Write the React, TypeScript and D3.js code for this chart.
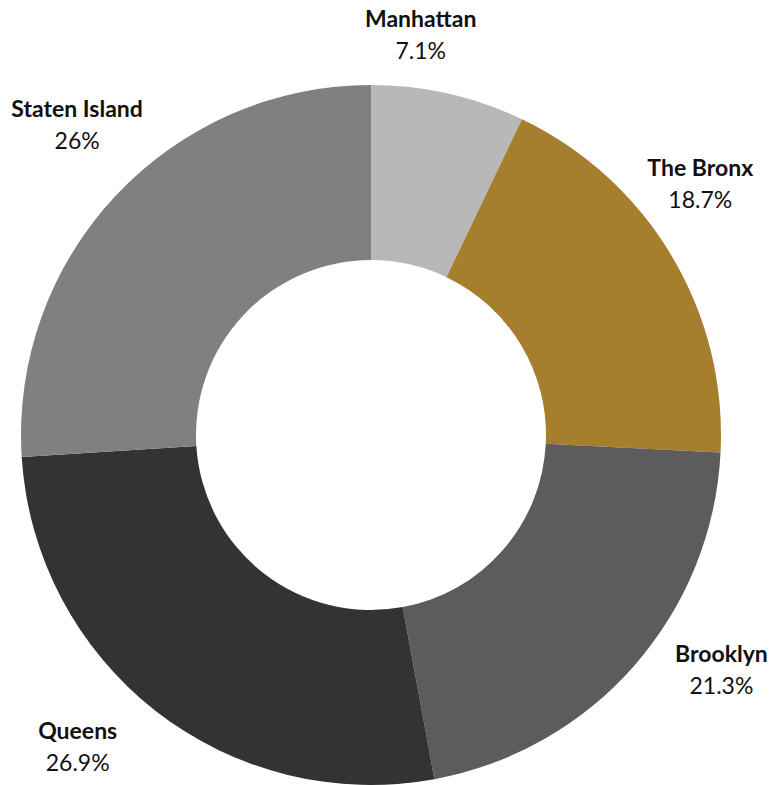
import React, { useEffect, useRef } from 'react';
import * as d3 from 'd3';

// borough share, clockwise from 12 o'clock
const boroughs = ['Manhattan', 'The Bronx', 'Brooklyn', 'Queens', 'Staten Island'];
const shares = [7.1, 18.7, 21.3, 26.9, 26];
const shareLabels = ['7.1%', '18.7%', '21.3%', '26.9%', '26%'];
const colors = ['#b7b8b7', '#a57e2e', '#5c5c5c', '#333333', '#808083'];

// hand tweaks so labels sit where the original put them
const labelNudge: Record<string, [number, number]> = {
    'Manhattan': [-41, -2],
    'The Bronx': [-23, -43],
    'Brooklyn': [42, -37],
    'Queens': [-41, -13],
    'Staten Island': [5, -31],
};

const width = 779;
const height = 785;
const cx = 371;
const cy = 435;
const outerRadius = 350;
const innerRadius = 175;
const labelRadius = 410;

function DonutChart() {
    const ref = useRef<SVGSVGElement>(null);

    useEffect(() => {
        drawChart();
    }, []);

    function drawChart() {
        const root = d3.select(ref.current);
        root.selectAll('*').remove();

        const data = boroughs.map((name, i) => ({ name, value: shares[i], label: shareLabels[i], color: colors[i] }));

        const g = root.append('g').attr('transform', `translate(${cx}, ${cy})`);

        const pieGenerator = d3.pie<any>().value((d) => d.value).sort(null);
        const arcGenerator = d3.arc<any>().innerRadius(innerRadius).outerRadius(outerRadius);
        const labelArc = d3.arc<any>().innerRadius(labelRadius).outerRadius(labelRadius);

        const arcs = pieGenerator(data);

        g.selectAll('path')
            .data(arcs)
            .enter()
            .append('path')
            .attr('d', arcGenerator)
            .style('fill', (d) => d.data.color);

        const labels = g.selectAll('g.label')
            .data(arcs)
            .enter()
            .append('g')
            .attr('class', 'label')
            .attr('transform', (d) => {
                const [x, y] = labelArc.centroid(d);
                const [dx, dy] = labelNudge[d.data.name] || [0, 0];
                return `translate(${x + dx}, ${y + dy})`;
            });

        labels.append('text')
            .attr('text-anchor', 'middle')
            .attr('y', -6)
            .style('font-family', 'Lato, sans-serif')
            .style('font-weight', 700)
            .style('font-size', '23px')
            .style('fill', '#111')
            .text((d) => d.data.name);

        labels.append('text')
            .attr('text-anchor', 'middle')
            .attr('y', 26)
            .style('font-family', 'Lato, sans-serif')
            .style('font-weight', 400)
            .style('font-size', '23px')
            .style('fill', '#111')
            .text((d) => d.data.label);
    }

    return (
        <svg
            ref={ref}
            width={width}
            height={height}
            style={{ position: 'absolute', left: 0, top: 0, background: '#fff' }}
        />
    );
}

export default function App() {
    return <DonutChart />;
}
